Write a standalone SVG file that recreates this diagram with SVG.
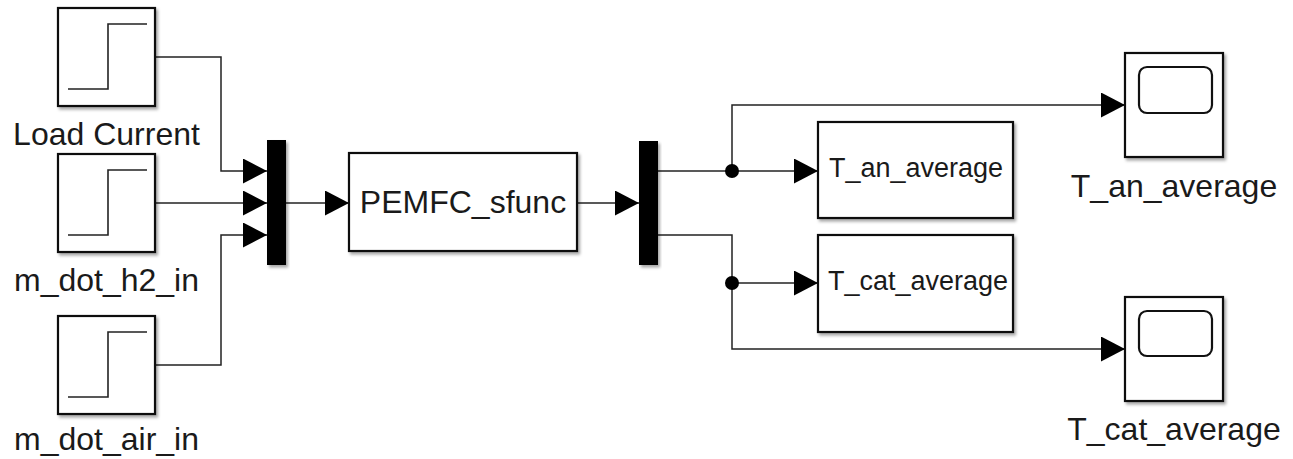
<svg xmlns="http://www.w3.org/2000/svg" width="1293" height="459" viewBox="0 0 1293 459">
<style>
  .blk { fill: #ffffff; stroke: #111; stroke-width: 2.2; }
  .bar { fill: #000; }
  .sig { fill: none; stroke: #222; stroke-width: 1.5; }
  .stp { fill: none; stroke: #222; stroke-width: 1.6; }
  .lbl { font-family: "Liberation Sans", Arial, sans-serif; font-size: 32px; fill: #1a1a1a; }
  .dsp { font-family: "Liberation Sans", Arial, sans-serif; font-size: 27px; fill: #1a1a1a; }
  .dot { fill: #000; }
</style>
<defs>
  <filter id="sh" x="-10%" y="-10%" width="130%" height="130%">
    <feDropShadow dx="2" dy="2.5" stdDeviation="1.5" flood-color="#000" flood-opacity="0.35"/>
  </filter>
  <marker id="arr" markerUnits="userSpaceOnUse" markerWidth="26" markerHeight="26" refX="24" refY="12.5" orient="auto">
    <path d="M0,0 L24,12.5 L0,25 Z" fill="#000"/>
  </marker>
</defs>

<g id="connectors">
  <path class="sig" d="M155,57 H221 V171 H267" marker-end="url(#arr)"/>
  <path class="sig" d="M155,203 H267" marker-end="url(#arr)"/>
  <path class="sig" d="M155,365 H221 V235 H267" marker-end="url(#arr)"/>
  <path class="sig" d="M286,203 H349" marker-end="url(#arr)"/>
  <path class="sig" d="M577,203 H639" marker-end="url(#arr)"/>
  <path class="sig" d="M658,171 H818" marker-end="url(#arr)"/>
  <path class="sig" d="M732,171 V105 H1125" marker-end="url(#arr)"/>
  <path class="sig" d="M658,235 H732 V349 H1125" marker-end="url(#arr)"/>
  <path class="sig" d="M732,283 H818" marker-end="url(#arr)"/>
  <circle class="dot" cx="732" cy="171" r="7"/>
  <circle class="dot" cx="732" cy="283" r="7"/>
</g>

<g id="step_load_current">
  <rect class="blk" x="58" y="8" width="97" height="98" filter="url(#sh)"/>
  <path class="stp" d="M68,89 H108 V24 H147"/>
  <text class="lbl" x="106.5" y="145" text-anchor="middle">Load Current</text>
</g>
<g id="step_m_dot_h2_in">
  <rect class="blk" x="58" y="154" width="97" height="98" filter="url(#sh)"/>
  <path class="stp" d="M68,235 H108 V170 H147"/>
  <text class="lbl" x="106.5" y="291" text-anchor="middle">m_dot_h2_in</text>
</g>
<g id="step_m_dot_air_in">
  <rect class="blk" x="58" y="316" width="97" height="98" filter="url(#sh)"/>
  <path class="stp" d="M68,397 H108 V332 H147"/>
  <text class="lbl" x="106.5" y="450" text-anchor="middle">m_dot_air_in</text>
</g>
<g id="mux">
  <rect class="bar" x="267" y="140" width="19" height="125" filter="url(#sh)"/>
</g>
<g id="pemfc_sfunc">
  <rect class="blk" x="349" y="153" width="228" height="98" filter="url(#sh)"/>
  <text class="lbl" x="463" y="213" text-anchor="middle">PEMFC_sfunc</text>
</g>
<g id="demux">
  <rect class="bar" x="639" y="141" width="19" height="124" filter="url(#sh)"/>
</g>
<g id="display_T_an_average">
  <rect class="blk" x="818" y="122" width="195" height="96" filter="url(#sh)"/>
  <text class="dsp" x="829" y="177">T_an_average</text>
</g>
<g id="display_T_cat_average">
  <rect class="blk" x="818" y="235" width="195" height="97" filter="url(#sh)"/>
  <text class="dsp" x="828" y="290">T_cat_average</text>
</g>
<g id="scope_T_an_average">
  <rect class="blk" x="1125" y="53" width="98" height="104" filter="url(#sh)"/>
  <rect class="blk" x="1139" y="67" width="73" height="46" rx="8" stroke-width="1.8"/>
  <text class="lbl" x="1174" y="197" text-anchor="middle">T_an_average</text>
</g>
<g id="scope_T_cat_average">
  <rect class="blk" x="1125" y="297" width="98" height="104" filter="url(#sh)"/>
  <rect class="blk" x="1139" y="311" width="73" height="45" rx="8" stroke-width="1.8"/>
  <text class="lbl" x="1174" y="440" text-anchor="middle">T_cat_average</text>
</g>
</svg>
